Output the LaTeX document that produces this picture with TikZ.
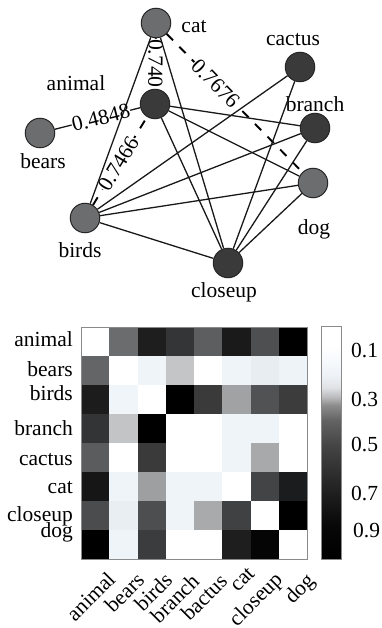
\documentclass[tikz,border=0pt]{standalone}
\usepackage{fontspec}
\setmainfont{Liberation Serif}
\definecolor{ngray}{HTML}{6B6D6F}
\definecolor{ndark}{HTML}{3A3A3A}
\definecolor{frame}{HTML}{8A8A8A}
\pgfdeclareverticalshading{cbshade}{20pt}{%
  rgb(0pt)=(0,0,0); rgb(34pt)=(0.03,0.03,0.03); rgb(59pt)=(0.1,0.1,0.1);
  rgb(89pt)=(0.19,0.19,0.19); rgb(114pt)=(0.27,0.27,0.27); rgb(139pt)=(0.39,0.39,0.39);
  rgb(154pt)=(0.55,0.55,0.55); rgb(162pt)=(0.73,0.73,0.74); rgb(172pt)=(0.88,0.89,0.9);
  rgb(184pt)=(0.93,0.95,0.97); rgb(199pt)=(0.97,0.98,0.99); rgb(214pt)=(1,1,1);
  rgb(233pt)=(1,1,1)}
\begin{document}
\begin{tikzpicture}[x=1pt,y=-1pt,
  every node/.style={font=\fontsize{21.5}{24}\selectfont},
  vtx/.style={circle, draw=black!85, line width=1pt, minimum size=29.5pt, inner sep=0pt},
  vg/.style={vtx, fill=ngray},
  vd/.style={vtx, fill=ndark},
  nlab/.style={inner sep=0pt},
  edge/.style={draw=black!90, line width=1.3pt},
  dedge/.style={draw=black, line width=1.9pt, dash pattern=on 9pt off 9pt},
  elab/.style={fill=white, inner sep=0.5pt, sloped},
  rowlab/.style={anchor=base east, inner sep=0pt},
  collab/.style={anchor=north east, rotate=45, inner sep=0pt},
  cblab/.style={anchor=west, inner sep=0pt}]
\useasboundingbox (0,0) rectangle (382,628);

% ---------- graph ----------
\node[vg] (cat)     at (156,23)  {};
\node[vd] (cactus)  at (300,67)  {};
\node[vd] (animal)  at (155,104) {};
\node[vg] (bears)   at (40,133)  {};
\node[vd] (branch)  at (315,128) {};
\node[vg] (dog)     at (313,183) {};
\node[vg] (birds)   at (85,218)  {};
\node[vd] (closeup) at (228,263) {};

\node[nlab] (lcat)     at (194,27)  {cat};
\node[nlab] (lcactus)  at (293,40)  {cactus};
\node[nlab] (lanimal)  at (76,83)   {animal};
\node[nlab] (lbears)   at (43,161)  {bears};
\node[nlab] (lbranch)  at (315,104) {branch};
\node[nlab] (ldog)     at (314,229) {dog};
\node[nlab] (lbirds)   at (80,250)  {birds};
\node[nlab] (lcloseup) at (224,292) {closeup};

% labelled edges
\draw[edge] (bears) -- node[elab, pos=0.54] (e1) {0.4848} (animal);
\draw[dedge] (birds) -- node[elab, pos=0.47] (e2) {0.7466} (animal);
\draw[dedge] (cat) -- node[elab, pos=0.5, allow upside down] (e3) {0.740} (animal);
\draw[dedge] (cat) -- node[elab, pos=0.36] (e4) {0.7676} (dog);

% plain edges
\draw[edge] (birds) -- (cat);
\draw[edge] (cat) -- (closeup);
\draw[edge] (animal) -- (closeup);
\draw[edge] (animal) -- (branch);
\draw[edge] (animal) -- (dog);
\draw[edge] (birds) -- (cactus);
\draw[edge] (birds) -- (branch);
\draw[edge] (birds) -- (dog);
\draw[edge] (birds) -- (closeup);
\draw[edge] (closeup) -- (cactus);
\draw[edge] (closeup) -- (branch);
\draw[edge] (closeup) -- (dog);

% ---------- matrix ----------
\foreach \rowcols [count=\i from 0] in {
 {FFFFFF,6A6C6E,1E1E1E,343536,5C5E60,1A1A1A,4E4F50,000000},
 {636567,FFFFFF,EEF4F8,C3C5C7,FFFFFF,EEF4F8,E8EDF1,EEF3F7},
 {1C1C1C,F0F5F9,FFFFFF,000000,3A3A3A,A0A2A4,505254,3C3C3C},
 {333435,C2C4C6,000000,FFFFFF,FFFFFF,EEF4F8,EEF4F8,FFFFFF},
 {5A5C5E,FFFFFF,3A3A3A,FFFFFF,FFFFFF,EEF4F8,A7A9AB,FFFFFF},
 {161616,EEF4F8,9D9FA1,EEF4F8,EEF4F8,FFFFFF,434445,1B1C1D},
 {4B4C4D,E9EEF2,4C4E50,EEF4F8,A8AAAC,404142,FFFFFF,000000},
 {000000,EEF4F8,3B3C3D,FFFFFF,FFFFFF,1E1E1E,050505,FFFFFF}}{
  \foreach \c [count=\j from 0] in \rowcols {
    \edef\tmp{\noexpand\definecolor{cellc}{HTML}{\c}}\tmp
    \fill[cellc] ({81+28.25*\j},{327+29*\i}) rectangle ({81+28.25*(\j+1)},{327+29*(\i+1)});
  }
}
\draw[frame, line width=0.6pt] (81,327) rectangle (307,559);

\node[rowlab] (ranimal)  at (73,346) {animal};
\node[rowlab] (rbears)   at (73,376) {bears};
\node[rowlab] (rbirds)   at (73,400) {birds};
\node[rowlab] (rbranch)  at (73,435) {branch};
\node[rowlab] (rcactus)  at (73,465) {cactus};
\node[rowlab] (rcat)     at (73,493) {cat};
\node[rowlab] (rcloseup) at (73,521) {closeup};
\node[rowlab] (rdog)     at (73,537) {dog};

\node[collab] (canimal)  at (106,570) {animal};
\node[collab] (cbears)   at (135,571) {bears};
\node[collab] (cbirds)   at (163,571) {birds};
\node[collab] (cbranch)  at (190,572) {branch};
\node[collab] (cbactus)  at (218,572) {bactus};
\node[collab] (ccat)     at (247,566) {cat};
\node[collab] (ccloseup) at (273,570) {closeup};
\node[collab] (cdog)     at (305,571) {dog};

% ---------- colour bar ----------
\node[inner sep=0pt, anchor=north west] (cbar) at (321,326) {\pgfuseshading{cbshade}};
\draw[frame, line width=0.6pt] (cbar.south west) rectangle (cbar.north east);
\node[cblab] (t1) at (351,351) {0.1};
\node[cblab] (t3) at (351,399) {0.3};
\node[cblab] (t5) at (351,444) {0.5};
\node[cblab] (t7) at (351,493) {0.7};
\node[cblab] (t9) at (353,530) {0.9};
\end{tikzpicture}
\end{document}
